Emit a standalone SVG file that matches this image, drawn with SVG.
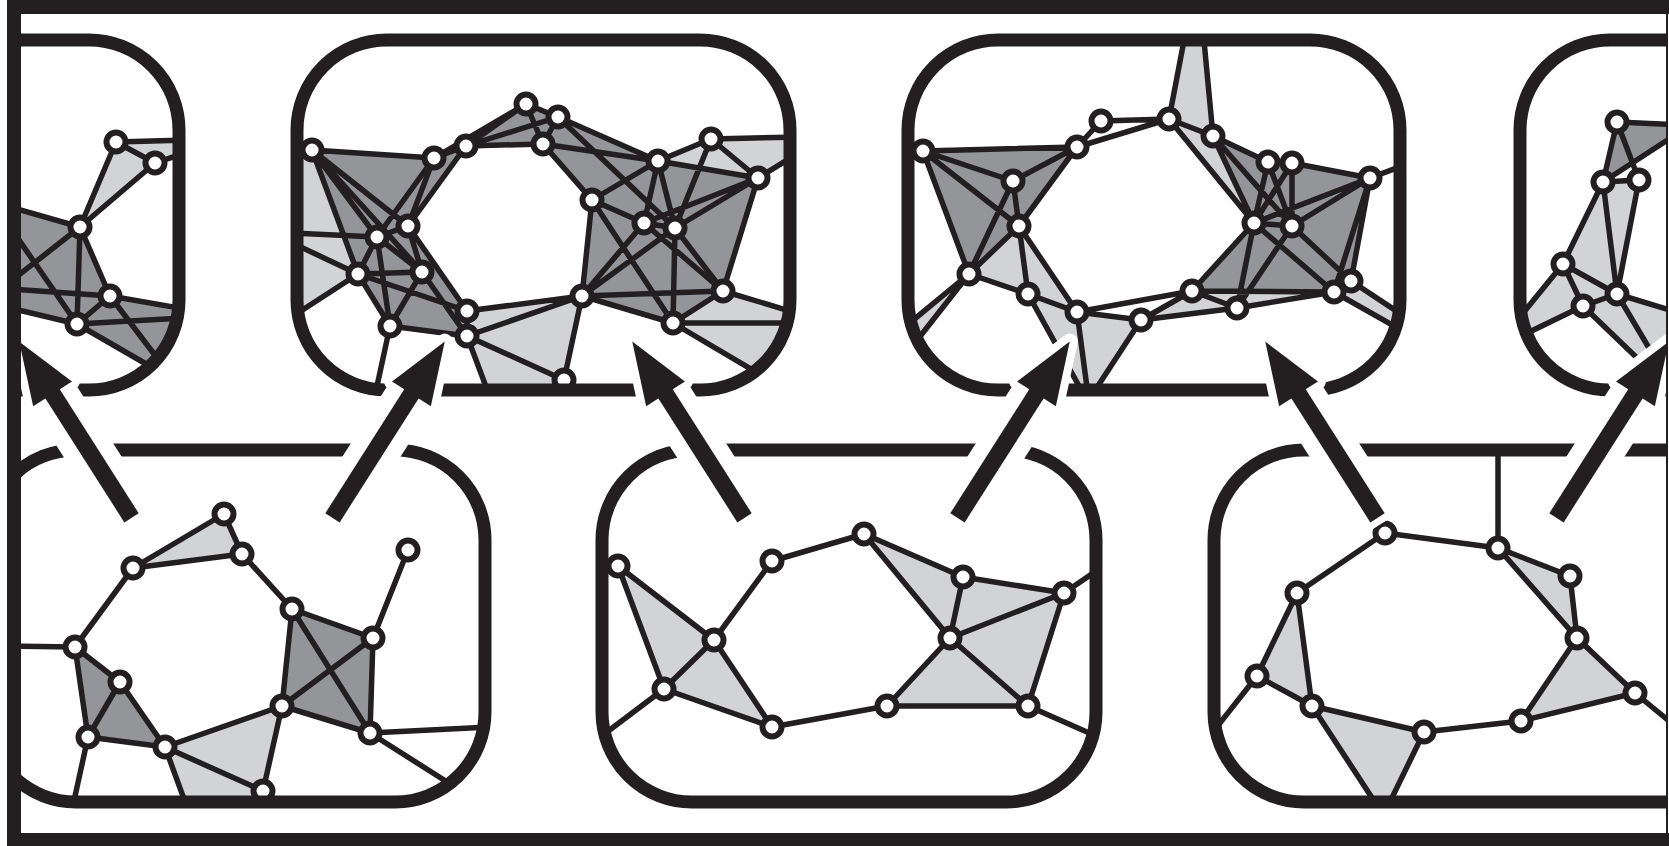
<svg xmlns="http://www.w3.org/2000/svg" xmlns:xlink="http://www.w3.org/1999/xlink" width="1669" height="846" viewBox="0 0 1669 846">
<style>
.e{fill:none;stroke:#231f20;stroke-width:5.5;stroke-linecap:round}
.n{fill:#fff;stroke:#231f20;stroke-width:6}
.dk{fill:#939598}
.lt{fill:#d1d3d4}
.box{fill:none;stroke:#231f20;stroke-width:13}
.ar{fill:#231f20}
.halo{fill:#fff;stroke:#fff;stroke-width:16;stroke-linejoin:round}
</style>
<defs>
<clipPath id="cf"><rect x="21" y="14" width="1645" height="819"/></clipPath>
<clipPath id="c1"><rect x="-300" y="40" width="479" height="350" rx="90"/></clipPath>
<clipPath id="c2"><rect x="297" y="40" width="493" height="350" rx="90"/></clipPath>
<clipPath id="c3"><rect x="908" y="40" width="492" height="350" rx="90"/></clipPath>
<clipPath id="c4"><rect x="1520" y="40" width="500" height="350" rx="90"/></clipPath>
<clipPath id="c5"><rect x="-14" y="450" width="499" height="352" rx="90"/></clipPath>
<clipPath id="c6"><rect x="602" y="450" width="494" height="352" rx="90"/></clipPath>
<clipPath id="c7"><rect x="1214" y="450" width="600" height="352" rx="90"/></clipPath>
<g id="arr"><rect x="-1" y="-8.5" width="152" height="17"/><polygon points="146,-23 208,0 146,23"/></g>
<g id="arrh"><rect x="0" y="-16.5" width="150" height="33"/><polygon points="146,-23 208,0 146,23"/></g>
</defs>
<rect x="0" y="0" width="1669" height="846" fill="#fff"/>
<g clip-path="url(#cf)">
<g id="panel1" clip-path="url(#c1)">
<polygon class="lt" points="116,142 185,140 185,153 155,163"/>
<polygon class="lt" points="116,142 155,163 80,227"/>
<polygon class="dk" points="10,207 80,227 110,296 185,309 185,372 160,372 77,324 10,308"/>
<path class="e" d="M116 142L185 140M155 163L185 153M116 142L155 163M116 142L80 227M155 163L80 227M10 207L80 227M80 227L10 282M10 227L77 324M80 227L77 324M80 227L110 296M10 289L110 296M110 296L185 309M110 296L77 324M77 324L185 318M110 296L170 375M77 324L160 372M10 308L77 324"/>
<circle class="n" cx="116" cy="142" r="9.5"/><circle class="n" cx="155" cy="163" r="9.5"/><circle class="n" cx="80" cy="227" r="9.5"/><circle class="n" cx="110" cy="296" r="9.5"/><circle class="n" cx="77" cy="324" r="9.5"/>
</g>
<g id="panel2" clip-path="url(#c2)">
<polygon class="lt" points="290,155 312,150 358,274 290,322"/>
<polygon class="dk" points="312,150 434,158 466,146 408,226 467,311 467,336 390,326 358,274"/>
<polygon class="dk" points="466,146 526,104 558,117 658,161 592,200 543,144"/>
<polygon class="lt" points="658,161 711,139 800,137 800,152 758,178"/>
<polygon class="dk" points="592,200 658,161 758,178 723,291 673,323 582,296"/>
<polygon class="lt" points="723,291 800,314 800,398 673,323"/>
<polygon class="lt" points="467,311 582,296 560,400 491,400 467,336"/>
<path class="e" d="M312 150L434 158M312 150L377 237M312 150L408 226M312 150L358 274M312 150L422 272M290 233L377 237M290 242L358 274M290 318L358 274M434 158L466 146M434 158L377 237M434 158L408 226M466 146L408 226M466 146L526 104M434 158L526 104M466 146L558 117M466 146L543 144M526 104L558 117M526 104L543 144M558 117L543 144M558 117L658 161M543 144L658 161M558 117L675 228M543 144L592 200M377 237L408 226M377 237L358 274M377 237L422 272M377 237L390 326M408 226L422 272M408 226L467 311M358 274L422 272M358 274L390 326M422 272L390 326M358 274L467 311M422 272L467 336M390 326L467 336M390 326L374 400M467 311L467 336M467 311L582 296M467 336L582 296M467 336L564 380M467 336L491 400M582 296L564 380M658 161L711 139M658 161L758 178M658 161L592 200M658 161L644 223M658 161L675 228M711 139L758 178M711 139L675 228M711 139L800 137M758 178L800 152M758 178L723 291M758 178L644 223M758 178L675 228M592 200L582 296M592 200L644 223M592 200L673 323M644 223L675 228M644 223L582 296M644 223L723 291M675 228L673 323M675 228L723 291M675 228L582 296M723 291L582 296M723 291L673 323M723 291L800 314M673 323L800 323M673 323L800 398M582 296L673 323"/>
<circle class="n" cx="312" cy="150" r="9.5"/><circle class="n" cx="434" cy="158" r="9.5"/><circle class="n" cx="466" cy="146" r="9.5"/><circle class="n" cx="526" cy="104" r="9.5"/><circle class="n" cx="558" cy="117" r="9.5"/><circle class="n" cx="543" cy="144" r="9.5"/><circle class="n" cx="658" cy="161" r="9.5"/><circle class="n" cx="711" cy="139" r="9.5"/><circle class="n" cx="758" cy="178" r="9.5"/><circle class="n" cx="592" cy="200" r="9.5"/><circle class="n" cx="644" cy="223" r="9.5"/><circle class="n" cx="675" cy="228" r="9.5"/><circle class="n" cx="723" cy="291" r="9.5"/><circle class="n" cx="582" cy="296" r="9.5"/><circle class="n" cx="673" cy="323" r="9.5"/><circle class="n" cx="467" cy="311" r="9.5"/><circle class="n" cx="467" cy="336" r="9.5"/><circle class="n" cx="564" cy="380" r="9.5"/><circle class="n" cx="390" cy="326" r="9.5"/><circle class="n" cx="358" cy="274" r="9.5"/><circle class="n" cx="422" cy="272" r="9.5"/><circle class="n" cx="377" cy="237" r="9.5"/><circle class="n" cx="408" cy="226" r="9.5"/>
</g>
<g id="panel3" clip-path="url(#c3)">
<polygon class="dk" points="923,151 1077,147 1019,226 969,274"/>
<polygon class="lt" points="969,274 1019,226 1077,312 1028,294"/>
<polygon class="lt" points="1028,294 1077,312 1141,320 1092,395 1084,395"/>
<polygon class="lt" points="969,274 900,331 900,362"/>
<polygon class="lt" points="1169,119 1186,30 1203,30 1213,136"/>
<polygon class="lt" points="1169,119 1213,136 1254,223"/>
<polygon class="dk" points="1213,136 1268,162 1292,163 1370,178 1351,281 1334,292 1192,291 1254,223"/>
<polygon class="lt" points="1141,320 1192,291 1334,292 1237,308"/>
<polygon class="lt" points="1351,281 1410,320 1410,335 1334,292"/>
<path class="e" d="M923 151L1077 147M923 151L1013 181M923 151L1019 226M923 151L969 274M1013 181L1077 147M1013 181L969 274M1013 181L1019 226M1019 226L1077 147M1019 226L969 274M1019 226L1028 294M1019 226L1077 312M969 274L1028 294M969 274L900 331M969 274L900 362M1028 294L1077 312M1028 294L1084 395M1077 312L1088 395M1077 312L1141 320M1077 312L1192 291M1141 320L1192 291M1141 320L1237 308M1141 320L1092 395M1077 147L1101 121M1101 121L1169 119M1077 147L1169 119M1169 119L1213 136M1169 119L1186 30M1213 136L1203 30M1169 119L1254 223M1213 136L1254 223M1213 136L1268 162M1213 136L1292 226M1268 162L1292 163M1268 162L1254 223M1268 162L1292 226M1292 163L1370 178M1292 163L1292 226M1292 163L1254 223M1254 223L1292 226M1254 223L1370 178M1292 226L1370 178M1254 223L1192 291M1254 223L1237 308M1254 223L1334 292M1292 226L1237 308M1292 226L1351 281M1370 178L1351 281M1370 178L1334 292M1370 178L1410 163M1351 281L1410 320M1334 292L1410 335M1334 292L1351 281M1192 291L1237 308M1192 291L1334 292M1237 308L1334 292"/>
<circle class="n" cx="923" cy="151" r="9.5"/><circle class="n" cx="1013" cy="181" r="9.5"/><circle class="n" cx="1019" cy="226" r="9.5"/><circle class="n" cx="969" cy="274" r="9.5"/><circle class="n" cx="1028" cy="294" r="9.5"/><circle class="n" cx="1077" cy="312" r="9.5"/><circle class="n" cx="1141" cy="320" r="9.5"/><circle class="n" cx="1192" cy="291" r="9.5"/><circle class="n" cx="1237" cy="308" r="9.5"/><circle class="n" cx="1254" cy="223" r="9.5"/><circle class="n" cx="1292" cy="226" r="9.5"/><circle class="n" cx="1334" cy="292" r="9.5"/><circle class="n" cx="1351" cy="281" r="9.5"/><circle class="n" cx="1370" cy="178" r="9.5"/><circle class="n" cx="1268" cy="162" r="9.5"/><circle class="n" cx="1292" cy="163" r="9.5"/><circle class="n" cx="1213" cy="136" r="9.5"/><circle class="n" cx="1169" cy="119" r="9.5"/><circle class="n" cx="1101" cy="121" r="9.5"/><circle class="n" cx="1077" cy="147" r="9.5"/>
</g>
<g id="panel4" clip-path="url(#c4)">
<polygon class="dk" points="1617,122 1680,125 1680,132 1603,182"/>
<polygon class="lt" points="1603,182 1639,180 1617,294 1680,313 1690,410 1583,306 1515,339 1515,323 1563,264"/>
<path class="e" d="M1617 122L1680 125M1617 122L1603 182M1617 122L1639 180M1603 182L1639 180M1603 182L1680 132M1603 182L1563 264M1603 182L1617 294M1639 180L1617 294M1563 264L1617 294M1563 264L1583 306M1617 294L1583 306M1563 264L1515 323M1583 306L1515 339M1583 306L1660 380M1617 294L1665 375M1617 294L1680 313"/>
<circle class="n" cx="1617" cy="122" r="9.5"/><circle class="n" cx="1603" cy="182" r="9.5"/><circle class="n" cx="1639" cy="180" r="9.5"/><circle class="n" cx="1563" cy="264" r="9.5"/><circle class="n" cx="1617" cy="294" r="9.5"/><circle class="n" cx="1583" cy="306" r="9.5"/>
</g>
<g id="panel5" clip-path="url(#c5)">
<polygon class="lt" points="224,514 242,554 133,568"/>
<polygon class="dk" points="75,647 120,682 165,747 88,737"/>
<polygon class="lt" points="165,747 282,706 263,791 263,810 188,810"/>
<polygon class="dk" points="292,609 373,638 370,733 282,706"/>
<path class="e" d="M224 514L242 554M224 514L133 568M133 568L242 554M133 568L75 647M242 554L292 609M75 647L10 646M75 647L120 682M75 647L88 737M120 682L88 737M120 682L165 747M88 737L165 747M88 737L72 810M165 747L282 706M165 747L263 791M165 747L188 810M263 791L282 706M282 706L292 609M282 706L373 638M282 706L370 733M292 609L373 638M292 609L370 733M373 638L370 733M373 638L408 550M370 733L490 727M370 733L455 787"/>
<circle class="n" cx="224" cy="514" r="9.5"/><circle class="n" cx="242" cy="554" r="9.5"/><circle class="n" cx="133" cy="568" r="9.5"/><circle class="n" cx="75" cy="647" r="9.5"/><circle class="n" cx="120" cy="682" r="9.5"/><circle class="n" cx="88" cy="737" r="9.5"/><circle class="n" cx="165" cy="747" r="9.5"/><circle class="n" cx="263" cy="791" r="9.5"/><circle class="n" cx="282" cy="706" r="9.5"/><circle class="n" cx="292" cy="609" r="9.5"/><circle class="n" cx="373" cy="638" r="9.5"/><circle class="n" cx="370" cy="733" r="9.5"/><circle class="n" cx="408" cy="550" r="9.5"/>
</g>
<g id="panel6" clip-path="url(#c6)">
<polygon class="lt" points="618,566 714,640 772,727 664,689"/>
<polygon class="lt" points="864,534 963,577 1064,593 1028,706 887,706 950,638"/>
<path class="e" d="M618 566L714 640M618 566L664 689M714 640L664 689M714 640L772 561M714 640L772 727M664 689L772 727M664 689L595 741M772 561L864 534M864 534L963 577M864 534L950 638M963 577L1064 593M963 577L950 638M1064 593L950 638M1064 593L1028 706M1064 593L1105 565M950 638L887 706M950 638L1028 706M887 706L1028 706M887 706L772 727M1028 706L1105 740"/>
<circle class="n" cx="618" cy="566" r="9.5"/><circle class="n" cx="714" cy="640" r="9.5"/><circle class="n" cx="664" cy="689" r="9.5"/><circle class="n" cx="772" cy="727" r="9.5"/><circle class="n" cx="772" cy="561" r="9.5"/><circle class="n" cx="864" cy="534" r="9.5"/><circle class="n" cx="963" cy="577" r="9.5"/><circle class="n" cx="1064" cy="593" r="9.5"/><circle class="n" cx="950" cy="638" r="9.5"/><circle class="n" cx="887" cy="706" r="9.5"/><circle class="n" cx="1028" cy="706" r="9.5"/>
</g>
<g id="panel7" clip-path="url(#c7)">
<polygon class="lt" points="1498,548 1570,576 1577,638"/>
<polygon class="lt" points="1297,593 1257,676 1312,706"/>
<polygon class="lt" points="1312,706 1424,732 1386,810 1380,810"/>
<polygon class="lt" points="1577,638 1635,693 1521,721"/>
<path class="e" d="M1385 533L1498 548M1385 533L1297 593M1498 548L1498 440M1498 548L1570 576M1498 548L1577 638M1570 576L1577 638M1297 593L1257 676M1297 593L1312 706M1257 676L1312 706M1257 676L1205 742M1312 706L1380 810M1424 732L1386 810M1312 706L1424 732M1424 732L1521 721M1521 721L1577 638M1521 721L1635 693M1577 638L1635 693M1635 693L1680 730"/>
<circle class="n" cx="1385" cy="533" r="9.5"/><circle class="n" cx="1498" cy="548" r="9.5"/><circle class="n" cx="1297" cy="593" r="9.5"/><circle class="n" cx="1257" cy="676" r="9.5"/><circle class="n" cx="1312" cy="706" r="9.5"/><circle class="n" cx="1424" cy="732" r="9.5"/><circle class="n" cx="1521" cy="721" r="9.5"/><circle class="n" cx="1635" cy="693" r="9.5"/><circle class="n" cx="1577" cy="638" r="9.5"/><circle class="n" cx="1570" cy="576" r="9.5"/>
</g>
<g id="boxes">
<rect class="box" x="-300" y="40" width="479" height="350" rx="90"/>
<rect class="box" x="297" y="40" width="493" height="350" rx="90"/>
<rect class="box" x="908" y="40" width="492" height="350" rx="90"/>
<rect class="box" x="1520" y="40" width="500" height="350" rx="90"/>
<rect class="box" x="-14" y="450" width="499" height="352" rx="90"/>
<rect class="box" x="602" y="450" width="494" height="352" rx="90"/>
<rect class="box" x="1214" y="450" width="600" height="352" rx="90"/>
</g>
<g id="connectors">
<g class="halo">
<use xlink:href="#arrh" transform="translate(131 517) rotate(-122.5)"/>
<use xlink:href="#arrh" transform="translate(333 517) rotate(-57.5)"/>
<use xlink:href="#arrh" transform="translate(744 517) rotate(-122.5)"/>
<use xlink:href="#arrh" transform="translate(958 517) rotate(-57.5)"/>
<use xlink:href="#arrh" transform="translate(1377 517) rotate(-122.5)"/>
<use xlink:href="#arrh" transform="translate(1557 517) rotate(-57.5)"/>
</g>
<g class="ar">
<use xlink:href="#arr" transform="translate(131 517) rotate(-122.5)"/>
<use xlink:href="#arr" transform="translate(333 517) rotate(-57.5)"/>
<use xlink:href="#arr" transform="translate(744 517) rotate(-122.5)"/>
<use xlink:href="#arr" transform="translate(958 517) rotate(-57.5)"/>
<use xlink:href="#arr" transform="translate(1377 517) rotate(-122.5)"/>
<use xlink:href="#arr" transform="translate(1557 517) rotate(-57.5)"/>
</g>
</g>
</g>
<g id="frame" fill="#231f20">
<rect x="7" y="0" width="14" height="846"/>
<rect x="7" y="0" width="1662" height="14"/>
<rect x="7" y="833" width="1662" height="13"/>
<rect x="1666" y="0" width="2" height="846"/>
</g>
</svg>
